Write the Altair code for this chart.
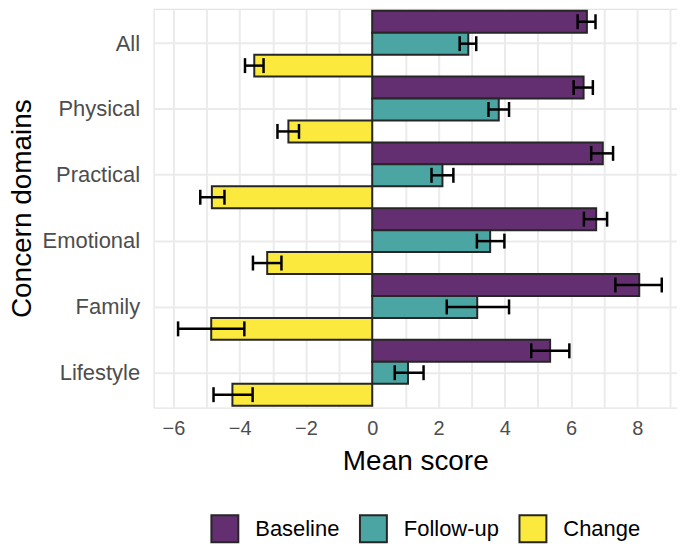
import altair as alt
import pandas as pd

domains = ["All", "Physical", "Practical", "Emotional", "Family", "Lifestyle"]
series = ["Baseline", "Follow-up", "Change"]

baseline = [6.48, 6.38, 6.96, 6.76, 8.06, 5.37]
baseline_lo = [6.20, 6.08, 6.61, 6.39, 7.34, 4.80]
baseline_hi = [6.74, 6.66, 7.27, 7.09, 8.74, 5.95]

follow_up = [2.90, 3.82, 2.12, 3.56, 3.17, 1.08]
follow_up_lo = [2.64, 3.51, 1.79, 3.16, 2.25, 0.68]
follow_up_hi = [3.14, 4.13, 2.45, 3.99, 4.13, 1.55]

change = [-3.56, -2.53, -4.84, -3.17, -4.86, -4.22]
change_lo = [-3.84, -2.86, -5.19, -3.60, -5.86, -4.79]
change_hi = [-3.28, -2.21, -4.46, -2.74, -3.86, -3.61]

colors = ["#642F70", "#4BA5A2", "#FCE93E"]
x_ticks = list(range(-6, 10))

rows = []
for s, m, lo, hi in [
    ("Baseline", baseline, baseline_lo, baseline_hi),
    ("Follow-up", follow_up, follow_up_lo, follow_up_hi),
    ("Change", change, change_lo, change_hi),
]:
    for d, mv, lv, hv in zip(domains, m, lo, hi):
        rows.append({"domain": d, "series": s, "mean": mv, "lo": lv, "hi": hv})
df = pd.DataFrame(rows)

FONT = "Liberation Sans"
GRID = "#EBEBEB"

x_scale = alt.Scale(domain=[-6.6, 9.2], nice=False, zero=False)
x_axis = alt.Axis(
    title="Mean score",
    values=x_ticks,
    labelExpr="datum.value % 2 == 0 ? datum.label : ''",
    grid=True,
    gridColor=GRID,
    gridWidth=2,
    ticks=False,
    domain=False,
    labelFontSize=20,
    labelColor="#4D4D4D",
    labelPadding=11,
    titleFontSize=28,
    titleFontWeight="normal",
    titleColor="black",
    titlePadding=9,
    labelFont=FONT,
    titleFont=FONT,
)

y_enc = alt.Y(
    "domain:N",
    sort=domains,
    scale=alt.Scale(paddingInner=0, paddingOuter=0.03),
    axis=alt.Axis(
        title="Concern domains",
        grid=True,
        gridColor=GRID,
        gridWidth=2,
        bandPosition=0.5,
        ticks=False,
        domain=False,
        labelFontSize=22,
        labelColor="#4D4D4D",
        labelPadding=14,
        titleFontSize=28,
        titleFontWeight="normal",
        titleColor="black",
        titlePadding=6,
        labelFont=FONT,
        titleFont=FONT,
    ),
)
yoff = alt.YOffset("series:N", sort=series, scale=alt.Scale(paddingInner=0, paddingOuter=0))

base = alt.Chart(df).encode(y=y_enc, yOffset=yoff)

bars = base.mark_bar(stroke="#262626", strokeWidth=2).encode(
    x=alt.X("mean:Q", scale=x_scale, axis=x_axis),
    color=alt.Color(
        "series:N",
        sort=series,
        scale=alt.Scale(domain=series, range=colors),
        legend=alt.Legend(
            title=None,
            orient="none",
            legendX=57,
            legendY=507,
            direction="horizontal",
            symbolType="square",
            symbolSize=729,
            symbolStrokeColor="#262626",
            symbolStrokeWidth=2,
            symbolOpacity=1,
            labelFontSize=22,
            labelFont=FONT,
            labelColor="black",
            labelOffset=16,
            columnPadding=16,
        ),
    ),
)

rules = base.mark_rule(color="black", strokeWidth=2.5).encode(
    x=alt.X("lo:Q", scale=x_scale, axis=x_axis),
    x2="hi:Q",
)
ticks_lo = base.mark_tick(color="black", thickness=2.5, size=15, opacity=1).encode(
    x=alt.X("lo:Q", scale=x_scale, axis=x_axis),
)
ticks_hi = base.mark_tick(color="black", thickness=2.5, size=15, opacity=1).encode(
    x=alt.X("hi:Q", scale=x_scale, axis=x_axis),
)

chart = (
    alt.layer(bars, rules, ticks_lo, ticks_hi)
    .properties(width=525, height=400, padding={"left": 0, "top": 0, "right": 0, "bottom": 0})
    .configure_view(stroke=None)
    .configure(background="white")
)

chart.save("out.html", embed_options={"renderer": "svg", "actions": False})
